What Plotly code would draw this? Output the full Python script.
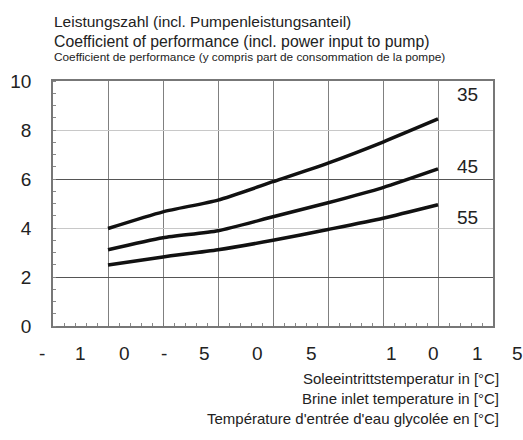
import plotly.graph_objects as go

# Data
brine_temp = [-15, -10, -5, 0, 5, 10, 15]
cop_35 = [3.98, 4.66, 5.14, 5.89, 6.65, 7.51, 8.45]
cop_45 = [3.11, 3.60, 3.89, 4.46, 5.03, 5.65, 6.41]
cop_55 = [2.49, 2.82, 3.11, 3.50, 3.94, 4.40, 4.95]
series_names = ["35", "45", "55"]
label_y = [9.43, 6.52, 4.43]

# x tick label characters as they appear (spread out) and their positions (data units)
xtick_chars = ["-", "1", "0", "-", "5", "0", "5", "1", "0", "1", "5"]
xtick_pos = [-21.0, -17.5, -13.5, -9.9, -6.2, -1.4, 3.5, 10.8, 14.6, 18.6, 22.2]
X_RANGE = [-20, 20]

y_ticks = [0, 2, 4, 6, 8, 10]
y_dark_grid = [2, 6]

title_lines = [
    ("Leistungszahl (incl. Pumpenleistungsanteil)", 15.5),
    ("Coefficient of performance (incl. power input to pump)", 15.8),
    ("Coefficient de performance (y compris part de consommation de la pompe)", 11.8),
]
xtitle_lines = [
    "Soleeintrittstemperatur in [°C]",
    "Brine inlet temperature in [°C]",
    "Température d'entrée d'eau glycolée en [°C]",
]

FONT = "Liberation Sans, Arial, sans-serif"
TXT = "#222222"

fig = go.Figure()
for ys, name in zip([cop_35, cop_45, cop_55], series_names):
    fig.add_trace(go.Scatter(
        x=brine_temp, y=ys, mode="lines", name=name,
        line=dict(color="#111111", width=3.5, shape="spline", smoothing=0.6),
        yaxis="y2", showlegend=False, hoverinfo="skip",
    ))

annotations = []
for name, ly in zip(series_names, label_y):
    annotations.append(dict(x=17.7, y=ly, xref="x", yref="y", text=name, xanchor="center",
                            showarrow=False, font=dict(size=19, color=TXT, family=FONT)))

span = X_RANGE[1] - X_RANGE[0]
for ch, xp in zip(xtick_chars, xtick_pos):
    annotations.append(dict(x=(xp - X_RANGE[0]) / span, y=0, xref="paper", yref="paper", text=ch,
                            showarrow=False, xanchor="center", yanchor="middle", yshift=-27,
                            font=dict(size=19, color=TXT, family=FONT)))

title_shift = [60, 40, 24]
for (t, fs), ys in zip(title_lines, title_shift):
    annotations.append(dict(x=0, y=1, xref="paper", yref="paper", text=t,
                            showarrow=False, xanchor="left", yanchor="middle", xshift=-1,
                            yshift=ys, font=dict(size=fs, color=TXT, family=FONT)))

xt_shift = [-52, -72, -92]
for t, ys in zip(xtitle_lines, xt_shift):
    annotations.append(dict(x=1.013, y=0, xref="paper", yref="paper", text=t,
                            showarrow=False, xanchor="right", yanchor="middle", xshift=2,
                            yshift=ys, font=dict(size=15, color=TXT, family=FONT)))

fig.update_layout(
    width=523, height=440,
    margin=dict(l=53, r=30, t=81, b=114),
    paper_bgcolor="white", plot_bgcolor="white",
    font=dict(family=FONT, color=TXT),
    xaxis=dict(range=X_RANGE, dtick=5, tick0=-20, showticklabels=False, automargin=False,
               showgrid=True, gridcolor="#808080", gridwidth=1,
               zeroline=False, showline=True, linecolor="#777777", linewidth=1.5, mirror=True,
               ticks="inside", ticklen=3, tickcolor="#777777",
               minor=dict(dtick=1, ticks="inside", ticklen=3, tickcolor="#888888", showgrid=False)),
    yaxis=dict(range=[0, 10], tickvals=y_ticks, showgrid=True, gridcolor="#c8c8c8", gridwidth=1.2,
               automargin=False,
               zeroline=False, showline=True, linecolor="#777777", linewidth=1.5, mirror=True,
               ticks="", ticklabelstandoff=16,
               tickfont=dict(size=19, color=TXT, family=FONT),
               minor=dict(dtick=0.5, ticks="inside", ticklen=3, tickcolor="#888888", showgrid=False)),
    yaxis2=dict(range=[0, 10], overlaying="y", tickvals=y_dark_grid, showticklabels=False,
                automargin=False,
                showgrid=True, gridcolor="#555555", gridwidth=1, zeroline=False, ticks="",
                showline=False),
    annotations=annotations,
)

fig.write_html("out.html")
